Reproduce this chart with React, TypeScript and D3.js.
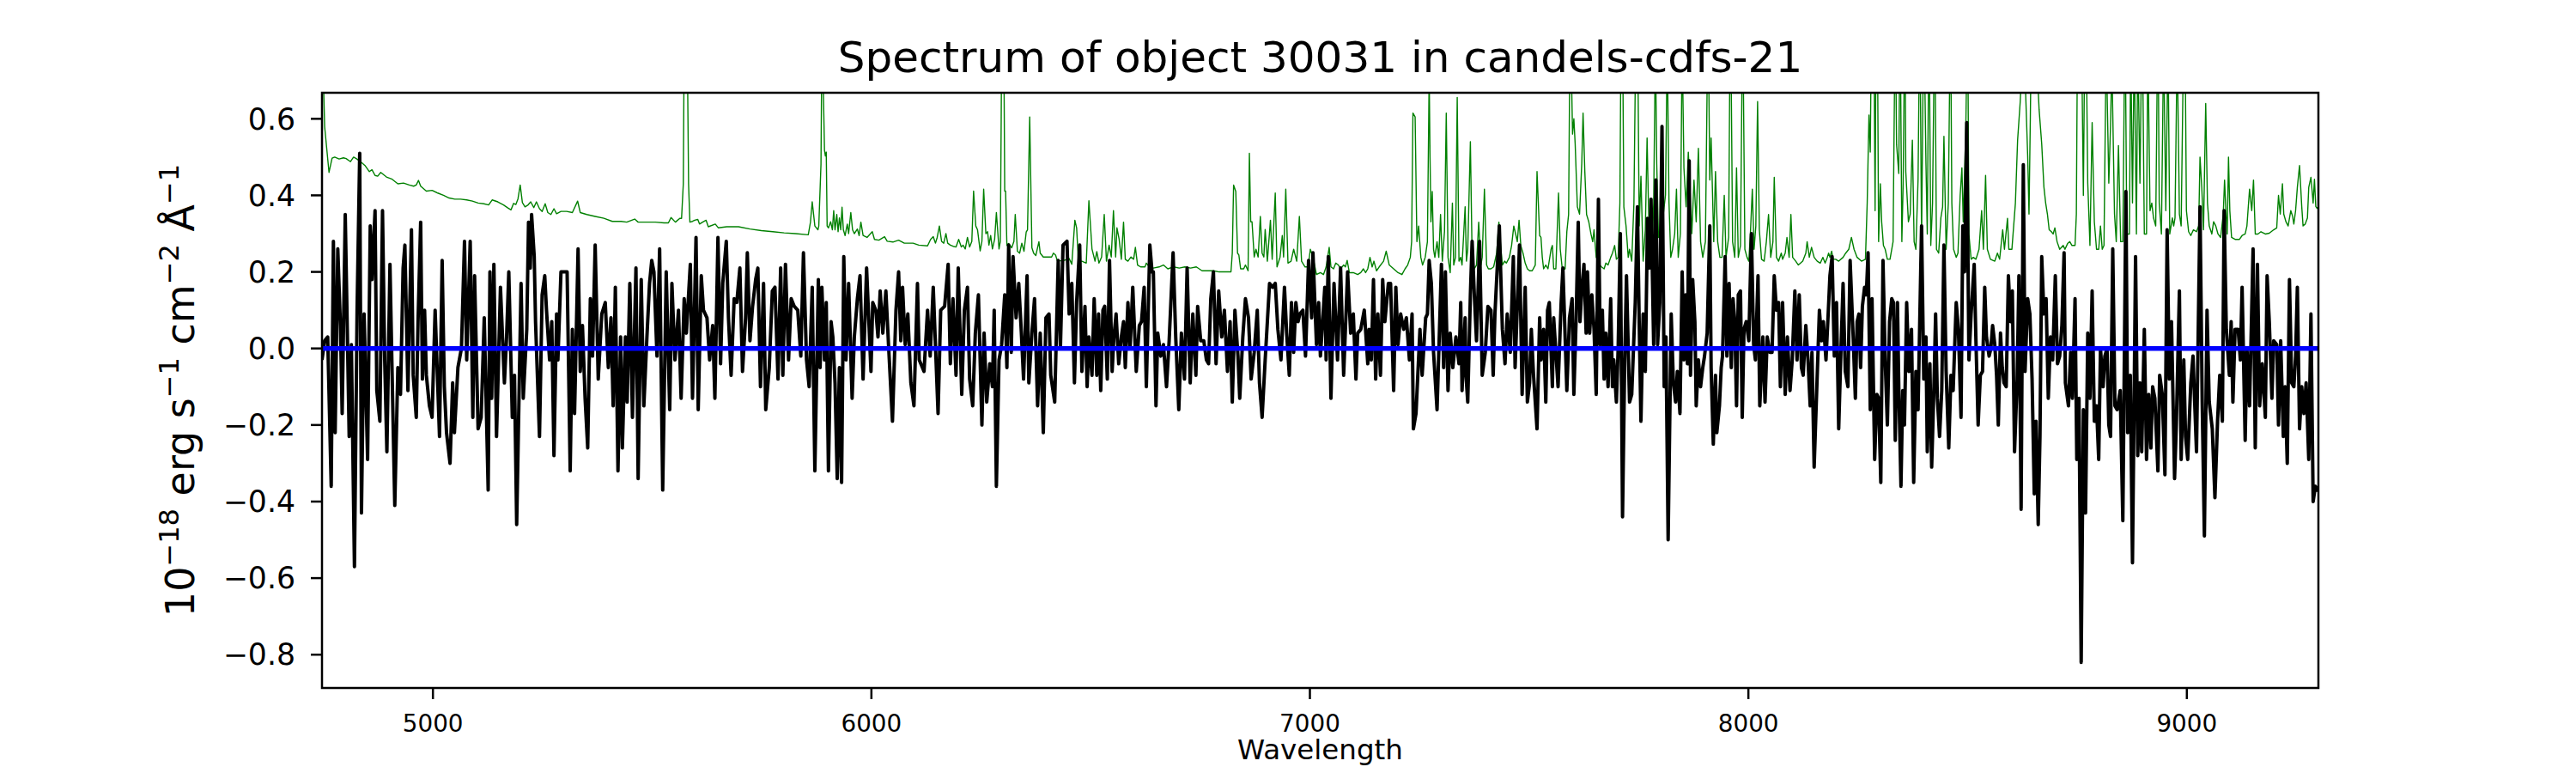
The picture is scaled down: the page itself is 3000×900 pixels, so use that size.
import { useEffect } from "react";
import * as d3 from "d3";

type Pt = [number, number];

const title = "Spectrum of object 30031 in candels-cdfs-21";
const xLabel = "Wavelength";
const xTicks = [5000, 6000, 7000, 8000, 9000];
const yTicks = [-0.8, -0.6, -0.4, -0.2, 0.0, 0.2, 0.4, 0.6];
const xDomain: Pt = [4747, 9300];
const yDomain: Pt = [-0.887, 0.668];

// flat model, blue
const modelPoints: Pt[] = [[4747, 0], [9300, 0]];

// observed flux, black (wavelength, flux)
const fluxPoints: Pt[] = [
  [4747,-0.03],[4753,0.02],[4760,0.03],[4768,-0.36],[4773,0.28],[4777,-0.22],[4783,0.26],[4789,0.06],[4793,-0.17],[4800,0.35],
  [4809,-0.23],[4814,0.01],[4821,-0.57],[4827,0.1],[4833,0.51],[4837,-0.43],[4843,0.09],[4851,-0.29],[4857,0.32],[4861,0.18],
  [4868,0.36],[4872,-0.11],[4879,-0.19],[4885,0.36],[4890,-0.03],[4895,-0.27],[4902,0.22],[4908,-0.13],[4913,-0.41],[4920,-0.05],
  [4926,-0.12],[4932,0.21],[4936,0.27],[4943,-0.11],[4951,0.31],[4955,-0.07],[4962,-0.18],[4966,0.07],[4972,0.33],[4976,-0.08],
  [4981,0.1],[4985,-0.07],[4992,-0.15],[4998,-0.18],[5005,0.1],[5015,-0.23],[5021,0.23],[5026,-0.1],[5031,-0.22],[5039,-0.3],
  [5045,-0.09],[5049,-0.22],[5057,-0.05],[5065,0.0],[5072,0.28],[5077,-0.03],[5085,0.28],[5091,-0.18],[5095,0.19],[5103,-0.21],
  [5110,-0.18],[5117,0.08],[5126,-0.37],[5130,0.2],[5134,-0.13],[5139,0.22],[5145,-0.23],[5154,0.16],[5163,-0.09],[5168,0.03],
  [5173,0.2],[5181,-0.18],[5186,-0.07],[5191,-0.46],[5201,0.17],[5206,-0.13],[5214,0.05],[5218,0.33],[5222,0.21],[5225,0.35],
  [5231,0.24],[5234,0.07],[5243,-0.23],[5249,0.14],[5255,0.19],[5259,0.1],[5266,-0.03],[5271,0.07],[5276,-0.28],[5282,0.09],
  [5285,-0.03],[5292,0.2],[5300,0.2],[5306,0.2],[5313,-0.32],
  [5318,0.05],[5323,-0.17],[5331,0.26],[5336,-0.06],[5341,0.06],[5347,-0.13],[5353,-0.26],[5359,0.13],[5364,-0.02],[5370,0.27],
  [5377,-0.08],[5385,0.09],[5393,0.12],[5400,-0.05],[5406,0.08],[5411,-0.15],[5416,0.16],[5422,-0.32],[5428,0.03],[5432,-0.26],
  [5439,0.03],[5443,-0.14],[5449,0.17],[5455,-0.18],[5463,0.21],[5468,-0.34],[5475,0.18],[5481,-0.15],[5488,0.03],[5494,0.17],
  [5499,0.23],[5504,0.2],[5511,-0.02],[5517,0.26],[5524,-0.37],[5532,0.2],[5540,-0.16],[5545,0.17],[5552,-0.03],[5560,0.1],
  [5566,-0.13],[5573,0.13],[5578,0.04],[5587,0.22],[5592,-0.13],[5600,0.29],[5605,-0.16],[5612,0.19],[5617,0.1],[5625,0.08],
  [5631,-0.03],[5638,0.06],[5643,-0.13],[5650,0.29],[5656,-0.04],[5661,0.17],[5669,0.28],[5674,0.08],[5680,-0.07],[5687,0.13],
  [5693,0.12],[5700,0.21],[5706,-0.06],[5713,0.08],[5717,0.25],[5723,0.02],[5729,0.11],[5736,0.18],[5741,0.21],[5747,-0.1],
  [5754,0.17],[5759,-0.16],[5767,-0.05],[5774,0.15],[5780,0.16],[5787,-0.08],[5793,0.21],[5798,-0.07],[5804,0.22],[5811,-0.03],
  [5817,0.13],[5824,0.11],[5832,0.1],[5839,-0.02],[5845,0.25],[5852,-0.03],[5858,-0.1],[5865,0.16],[5871,-0.32],[5879,0.18],
  [5883,-0.05],[5887,0.16],[5893,-0.03],[5897,0.12],[5902,-0.32],[5908,0.07],[5912,0.03],[5917,-0.09],[5922,-0.34],[5927,-0.05],
  [5932,-0.35],[5937,0.24],[5942,-0.03],[5948,0.17],[5956,-0.13],[5961,0.03],[5968,0.13],[5974,0.19],[5981,-0.08],[5989,0.21],
  [5999,-0.06],[6003,0.12],[6010,0.1],[6015,0.03],[6020,0.15],[6026,0.04],[6033,0.15],[6039,0.01],[6048,-0.19],[6056,0.1],
  [6062,0.2],[6067,0.02],[6071,0.16],[6077,0.01],[6083,0.09],[6090,-0.09],[6097,-0.15],[6105,0.17],[6109,-0.03],[6120,-0.06],
  [6128,0.1],[6134,-0.02],[6141,0.16],[6152,-0.17],[6158,0.1],[6167,0.11],[6175,0.22],[6180,-0.04],[6186,0.13],[6193,-0.07],
  [6198,0.21],[6206,-0.12],[6212,0.1],[6219,0.16],[6224,-0.08],[6231,-0.15],[6237,0.04],[6244,0.14],[6252,-0.2],[6257,0.04],
  [6263,-0.14],[6270,-0.04],[6276,-0.1],[6280,0.1],[6285,-0.36],[6291,-0.03],[6297,0.01],[6304,0.14],[6309,-0.05],[6313,0.27],
  [6319,-0.01],[6323,0.24],[6330,0.08],[6336,0.17],[6342,0.04],[6347,-0.08],[6355,0.19],[6359,-0.09],[6366,0.04],[6372,0.13],
  [6379,-0.15],[6385,0.04],[6392,-0.22],[6398,0.08],[6405,0.09],[6409,-0.07],[6418,-0.14],[6426,0.23],[6431,0.0],[6437,0.27],
  [6446,0.28],[6451,0.09],
  [6457,0.17],[6463,-0.09],[6468,0.12],[6475,0.27],[6480,-0.06],[6487,0.11],[6492,-0.1],[6496,0.03],[6503,-0.07],[6508,0.13],
  [6514,-0.07],[6518,0.09],[6523,-0.11],[6528,0.1],[6532,0.11],[6538,-0.08],[6543,0.23],[6549,-0.06],[6553,0.03],[6558,0.09],
  [6564,-0.04],[6570,0.03],[6575,0.07],[6579,-0.05],[6585,0.12],[6590,0.0],[6596,0.16],[6604,-0.06],[6611,0.06],[6616,0.07],
  [6622,0.16],[6627,-0.1],[6635,0.27],[6640,0.2],[6643,0.2],[6649,-0.15],[6653,0.04],[6660,-0.02],[6666,0.01],[6673,-0.1],
  [6679,0.02],[6688,0.25],[6694,0.03],[6701,-0.16],[6707,0.04],[6714,-0.08],[6720,0.21],[6727,-0.09],[6733,0.09],[6740,-0.07],
  [6744,0.11],[6751,0.02],[6758,0.02],[6764,-0.03],[6769,-0.04],[6774,0.13],[6780,0.2],[6786,-0.04],[6792,0.15],[6799,0.03],
  [6805,0.1],[6812,-0.06],[6818,0.07],[6823,-0.14],[6829,0.1],[6836,-0.02],[6840,-0.13],[6847,0.03],[6853,0.13],[6860,0.08],
  [6866,-0.08],[6873,-0.01],[6880,0.1],[6885,-0.09],[6891,-0.18],[6898,-0.03],[6903,0.07],[6908,0.17],[6915,0.16],[6921,0.17],
  [6927,0.05],[6934,-0.03],[6942,0.16],[6947,0.04],[6953,-0.07],[6958,0.12],[6963,-0.01],[6968,0.12],[6973,0.07],[6977,0.09],
  [6984,0.1],[6990,-0.02],[6997,0.23],[7004,0.08],[7007,0.25],[7015,0.01],
  [7020,0.12],[7024,-0.02],[7034,0.16],[7037,-0.03],[7042,0.24],[7048,-0.13],[7055,0.17],[7063,-0.03],[7070,0.21],[7077,-0.07],
  [7086,0.2],[7093,0.04],[7099,0.09],[7105,-0.08],[7109,0.04],[7116,0.05],[7124,0.1],[7132,-0.04],[7135,0.05],[7140,-0.03],
  [7145,0.18],[7150,-0.08],[7155,0.09],[7161,-0.07],[7166,0.18],[7171,0.07],[7179,0.17],[7184,0.17],[7191,-0.11],[7196,0.16],
  [7201,0.01],[7207,0.09],[7214,0.05],[7220,0.08],[7227,-0.03],[7233,0.09],[7236,-0.21],[7242,-0.17],[7251,0.05],[7256,-0.07],
  [7264,0.08],[7268,0.09],[7272,0.23],[7277,0.17],[7282,-0.01],[7290,-0.16],[7300,0.22],[7305,-0.05],[7309,0.2],[7315,-0.11],
  [7320,0.04],[7326,-0.05],[7333,0.03],[7340,-0.04],[7344,0.12],[7347,-0.11],[7354,0.08],[7356,-0.07],[7360,-0.14],[7366,0.14],
  [7370,0.28],[7375,0.14],[7380,0.02],[7387,0.28],[7393,-0.07],[7400,-0.01],[7406,0.11],[7413,0.1],[7418,-0.07],[7422,0.09],
  [7432,0.32],[7439,0.05],[7445,-0.04],[7450,0.09],[7457,-0.01],[7464,0.24],[7468,-0.05],[7478,0.27],[7484,-0.12],[7491,0.16],
  [7496,-0.14],[7501,-0.09],[7505,0.05],[7510,-0.07],[7518,-0.21],[7524,0.08],[7527,-0.03],[7533,0.05],[7538,-0.14],[7542,0.1],
  [7546,0.12],[7553,-0.1],[7556,0.08],[7566,-0.1],[7573,0.12],[7577,0.21],[7586,-0.11],
  [7592,0.08],[7598,0.13],[7602,-0.12],[7607,0.07],[7612,0.33],[7616,0.07],[7620,0.15],[7625,0.22],[7630,0.04],[7633,0.2],
  [7638,0.04],[7643,0.14],[7648,0.05],[7653,-0.12],[7658,0.39],[7662,0.01],[7667,0.1],[7671,-0.08],[7675,0.04],[7680,-0.1],
  [7686,0.13],[7690,-0.1],[7693,-0.03],[7699,-0.14],[7703,0.0],[7708,0.3],[7713,-0.44],[7718,-0.03],[7722,0.19],[7729,-0.14],
  [7734,-0.12],[7739,0.03],[7742,0.12],[7747,0.37],[7751,0.07],[7755,-0.19],[7760,0.09],[7765,-0.06],[7770,0.34],[7774,0.21],
  [7778,0.39],[7784,0.01],[7789,0.44],[7793,0.01],[7798,0.12],[7803,0.58],[7808,-0.1],[7812,0.03],[7817,-0.5],[7824,0.09],
  [7829,-0.09],[7834,-0.14],[7838,-0.06],[7844,-0.17],[7849,0.2],[7853,-0.03],[7857,0.14],[7861,-0.04],[7865,0.49],[7868,-0.07],
  [7873,0.18],[7878,0.07],[7881,-0.15],[7886,-0.03],[7891,-0.1],[7896,-0.05],[7900,-0.02],[7906,0.04],[7912,0.32],[7915,-0.05],
  [7920,-0.25],[7925,-0.07],[7928,-0.22],[7934,-0.15],[7938,-0.05],[7941,-0.02],[7947,0.24],[7951,-0.02],[7956,0.17],[7961,-0.05],
  [7965,0.13],[7969,0.07],[7973,-0.15],[7977,0.14],[7982,0.15],[7986,-0.18],[7990,0.05],[7995,0.07],[8001,0.02],[8007,0.3],
  [8012,0.01],[8016,-0.03],[8022,0.19],[8026,-0.15],[8033,0.03],[8038,-0.14],[8043,0.03],[8049,-0.01],[8054,-0.01],[8059,0.19],
  [8064,0.1],[8069,0.12],[8073,-0.1],[8078,0.12],[8084,-0.12],[8089,0.03],[8095,-0.11],[8100,-0.03],[8106,0.15],[8111,-0.03],
  [8116,0.14],[8121,-0.05],[8125,-0.07],[8131,0.06],[8136,-0.03],[8141,-0.15],[8145,-0.01],[8150,-0.31],
  [8162,0.1],[8167,0.02],[8171,0.07],[8177,-0.03],[8182,0.09],[8186,0.19],[8191,0.24],[8196,-0.02],[8201,0.12],[8206,-0.21],
  [8211,-0.01],[8216,0.17],[8221,-0.06],[8227,-0.1],[8232,0.23],[8239,0.03],[8244,-0.13],[8248,0.07],[8252,0.09],[8256,-0.05],
  [8260,0.11],[8265,0.16],[8269,0.14],[8273,0.25],[8278,-0.16],[8282,0.13],[8288,-0.29],[8293,-0.12],[8297,-0.13],[8302,-0.35],
  [8307,0.23],[8312,-0.03],[8317,-0.2],[8322,0.07],[8327,0.13],[8331,0.12],[8335,-0.24],[8340,0.12],[8343,-0.1],[8348,-0.36],
  [8352,-0.11],[8356,-0.2],[8361,0.12],[8366,-0.06],[8372,0.05],[8377,-0.35],[8382,-0.06],[8387,-0.16],[8395,0.32],[8400,-0.08],
  [8405,0.03],[8408,-0.27],[8414,-0.04],[8418,-0.31],[8423,-0.11],[8427,0.09],[8431,-0.13],[8436,-0.23],[8441,-0.11],[8446,0.27],
  [8451,-0.06],[8457,-0.26],[8462,-0.07],[8467,-0.11],[8474,0.12],[8479,0.05],[8485,-0.18],[8489,0.32],[8493,0.2],[8498,0.59],
  [8503,-0.03],[8508,0.09],[8515,0.22],[8519,0.02],[8524,-0.2],[8529,-0.07],[8534,-0.06],[8539,0.16],[8543,0.03],[8549,-0.02],
  [8553,0.0],[8557,0.06],[8562,0.01],[8566,-0.07],[8570,-0.2],[8575,0.04],[8579,-0.05],[8583,-0.09],[8588,-0.1],[8593,0.19],
  [8598,0.07],[8602,0.15],[8607,-0.27],[8613,-0.08],[8617,0.19],[8622,-0.42],[8627,0.48],[8631,-0.06],[8637,0.13],[8642,0.09],
  [8647,-0.08],[8652,-0.38],[8656,-0.19],[8661,-0.46],[8665,-0.23],[8669,0.24],[8674,0.09],[8679,0.13],[8684,-0.13],[8689,0.03],
  [8694,-0.03],[8700,0.19],[8705,-0.04],[8710,-0.02],[8715,0.06],[8720,0.25],[8723,-0.09],
  [8730,-0.15],[8735,-0.01],[8739,-0.13],[8745,0.13],[8749,-0.29],[8754,-0.13],[8759,-0.82],[8764,-0.16],[8769,-0.43],[8774,0.04],
  [8779,-0.13],[8784,0.15],[8789,-0.19],[8794,-0.15],[8799,-0.29],[8803,0.0],[8809,-0.1],[8813,-0.02],[8818,0.0],[8822,-0.2],
  [8826,-0.23],[8831,0.26],[8836,-0.15],[8841,-0.16],[8848,-0.11],[8854,-0.45],[8861,0.41],[8865,-0.22],[8871,-0.07],[8876,-0.56],
  [8883,0.24],[8888,-0.28],[8893,-0.09],[8897,-0.27],[8903,0.05],[8908,-0.29],[8913,-0.12],[8918,-0.26],[8922,-0.1],[8927,-0.13],
  [8934,-0.32],[8938,-0.07],[8944,-0.12],[8950,-0.33],[8955,0.31],[8960,-0.08],[8965,0.07],[8972,-0.34],[8976,-0.2],[8983,0.15],
  [8987,-0.29],[8993,-0.03],[8997,-0.23],[9002,-0.29],[9009,-0.09],[9014,-0.02],[9022,-0.27],[9030,0.37],[9035,-0.14],[9040,-0.49],
  [9046,0.1],[9051,-0.14],[9058,-0.21],[9064,-0.39],[9070,-0.19],[9075,-0.07],[9081,-0.19],[9085,0.36],[9090,0.05],[9097,-0.07],
  [9101,0.07],[9105,-0.14],[9110,0.05],[9117,0.05],[9122,-0.03],[9126,0.16],[9133,-0.24],[9137,0.0],[9143,-0.15],[9151,0.26],
  [9156,-0.26],[9161,0.22],[9166,-0.15],[9172,-0.04],[9179,-0.18],[9183,0.19],[9188,0.07],[9194,-0.13],[9198,0.02],[9205,0.01],
  [9209,-0.2],[9214,0.02],[9220,-0.23],[9224,-0.1],[9229,-0.3],[9234,0.18],[9239,-0.09],[9244,-0.1],[9248,-0.02],[9252,0.16],
  [9257,-0.21],[9262,-0.1],[9267,-0.17],[9272,-0.09],[9278,-0.29],[9283,0.09],[9288,-0.4],[9293,-0.36],[9297,-0.37],[9300,-0.36],
];

// error spectrum, green (wavelength, sigma)
const errorPoints: Pt[] = [
  [4747,0.85],[4753,0.58],[4763,0.46],[4770,0.497],[4776,0.5],[4786,0.495],[4796,0.498],[4802,0.496],[4812,0.488],[4819,0.5],
  [4825,0.496],[4835,0.488],[4845,0.478],[4855,0.462],[4861,0.467],[4868,0.452],[4874,0.45],[4881,0.46],[4894,0.448],[4907,0.442],
  [4920,0.43],[4933,0.432],[4946,0.427],[4956,0.424],[4962,0.427],[4967,0.439],[4972,0.424],[4985,0.411],[4998,0.413],[5011,0.406],
  [5024,0.4],[5037,0.393],[5050,0.39],[5063,0.39],[5077,0.388],[5090,0.385],[5103,0.38],[5116,0.378],[5127,0.375],[5135,0.388],
  [5148,0.383],[5161,0.375],[5171,0.367],[5178,0.362],[5184,0.379],[5189,0.376],[5194,0.391],[5199,0.427],[5204,0.381],[5210,0.37],
  [5217,0.375],[5223,0.383],[5230,0.368],[5236,0.383],[5243,0.365],[5249,0.358],[5256,0.378],[5262,0.355],[5269,0.35],[5276,0.365],
  [5282,0.352],[5292,0.358],[5305,0.358],
  [5318,0.355],[5330,0.385],[5336,0.355],[5351,0.35],[5370,0.345],[5390,0.34],[5409,0.332],[5429,0.332],[5442,0.33],[5460,0.338],
  [5468,0.33],[5488,0.33],[5507,0.33],[5527,0.328],[5537,0.328],[5543,0.342],[5553,0.33],[5563,0.34],[5567,0.34],[5571,0.43],
  [5573,0.8],[5576,1.5],[5580,0.8],[5583,0.43],[5586,0.33],[5592,0.332],[5597,0.335],[5604,0.337],[5608,0.325],[5615,0.33],
  [5623,0.335],[5628,0.318],[5644,0.325],[5651,0.315],[5670,0.318],[5697,0.318],[5723,0.312],[5749,0.308],[5775,0.305],[5801,0.302],
  [5827,0.3],[5856,0.297],[5861,0.33],[5865,0.383],[5871,0.32],[5878,0.31],
  [5880,0.32],[5885,0.482],[5887,0.8],[5890,0.7],[5893,0.518],[5895,0.503],[5897,0.513],[5899,0.32],[5902,0.315],[5907,0.331],
  [5911,0.31],[5914,0.36],[5917,0.31],[5921,0.35],[5924,0.305],[5927,0.341],[5930,0.31],[5933,0.369],[5936,0.31],[5940,0.295],
  [5945,0.325],[5948,0.3],[5953,0.355],[5957,0.31],[5961,0.3],[5968,0.312],[5972,0.295],[5976,0.33],[5981,0.295],[5990,0.29],
  [6002,0.305],[6007,0.285],[6017,0.283],[6030,0.292],[6036,0.28],[6049,0.278],[6062,0.283],[6075,0.275],[6095,0.275],[6108,0.27],
  [6128,0.268],[6135,0.285],[6141,0.292],[6146,0.275],[6150,0.29],[6155,0.32],[6160,0.28],[6165,0.275],[6170,0.3],[6174,0.275],
  [6180,0.27],[6186,0.267],[6193,0.265],[6199,0.285],[6205,0.265],[6209,0.27],[6214,0.26],[6219,0.29],[6224,0.265],[6229,0.28],
  [6233,0.411],[6238,0.32],[6242,0.31],[6248,0.255],[6252,0.28],[6256,0.416],[6261,0.3],[6265,0.305],[6268,0.27],[6272,0.295],
  [6276,0.26],[6281,0.285],[6285,0.355],[6291,0.26],[6294,0.28],[6296,0.6],[6298,1.0],[6300,1.1],[6302,0.8],[6304,0.411],
  [6306,0.411],[6309,0.269],[6313,0.274],[6320,0.263],[6325,0.28],[6328,0.35],[6333,0.254],[6338,0.249],[6343,0.275],[6348,0.254],
  [6353,0.304],[6356,0.31],[6361,0.605],[6366,0.263],[6370,0.249],[6375,0.243],[6382,0.279],[6385,0.249],[6392,0.239],[6402,0.239],
  [6411,0.239],[6415,0.249],[6420,0.244],[6424,0.229],[6437,0.229],
  [6451,0.235],[6457,0.22],[6464,0.335],[6468,0.315],[6472,0.228],[6480,0.228],[6490,0.223],[6496,0.386],[6503,0.26],[6510,0.228],
  [6514,0.253],[6519,0.223],[6525,0.239],[6531,0.35],[6536,0.228],[6542,0.27],[6547,0.239],[6552,0.36],[6557,0.239],[6560,0.315],
  [6565,0.285],[6570,0.233],[6575,0.33],[6579,0.233],[6585,0.228],[6592,0.239],[6598,0.233],[6602,0.264],[6607,0.218],[6614,0.213],
  [6624,0.213],[6627,0.223],[6634,0.213],[6643,0.21],[6656,0.213],[6666,0.218],[6676,0.208],[6689,0.213],[6702,0.21],[6715,0.213],
  [6728,0.21],[6741,0.213],[6754,0.203],[6767,0.203],[6780,0.203],[6793,0.2],[6806,0.2],[6820,0.2],[6823,0.249],[6826,0.427],
  [6831,0.41],[6835,0.249],[6838,0.244],[6842,0.208],[6849,0.208],[6853,0.218],[6859,0.203],[6862,0.51],[6865,0.331],[6868,0.331],
  [6873,0.239],[6877,0.259],[6882,0.239],[6887,0.345],[6891,0.249],[6895,0.239],[6898,0.311],[6903,0.228],[6910,0.335],[6914,0.233],
  [6921,0.406],[6925,0.213],[6932,0.239],[6937,0.295],[6940,0.239],[6945,0.416],[6950,0.223],[6957,0.228],[6963,0.259],[6970,0.228],
  [6976,0.345],[6981,0.228],[6989,0.213],[6996,0.213],[7001,0.259],[7007,0.239],[7015,0.193],
  [7024,0.198],[7031,0.193],[7037,0.213],[7044,0.264],[7048,0.213],[7054,0.208],[7059,0.223],[7065,0.218],[7070,0.208],[7077,0.218],
  [7081,0.213],[7085,0.23],[7090,0.198],[7099,0.198],[7109,0.193],[7116,0.198],[7122,0.208],[7127,0.198],[7132,0.208],[7137,0.238],
  [7142,0.213],[7146,0.228],[7152,0.203],[7158,0.213],[7168,0.228],[7174,0.254],[7181,0.218],[7191,0.208],[7201,0.198],[7210,0.193],
  [7217,0.208],[7223,0.218],[7229,0.238],[7232,0.279],[7235,0.615],[7240,0.605],[7244,0.279],[7248,0.32],[7253,0.238],[7257,0.218],
  [7263,0.238],[7268,0.279],[7271,0.6],[7272,0.72],[7274,0.5],[7276,0.331],[7279,0.41],[7282,0.259],[7285,0.238],[7290,0.279],
  [7294,0.238],[7298,0.35],[7302,0.228],[7307,0.306],[7311,0.615],[7315,0.238],[7320,0.198],[7325,0.38],[7328,0.218],[7332,0.238],
  [7336,0.656],[7340,0.228],[7344,0.238],[7347,0.218],[7354,0.37],[7357,0.228],[7360,0.259],[7366,0.54],[7370,0.238],[7375,0.208],
  [7380,0.218],[7385,0.33],[7390,0.218],[7393,0.238],[7398,0.416],[7403,0.218],[7407,0.208],[7413,0.208],[7419,0.213],[7426,0.249],
  [7431,0.33],[7435,0.269],[7439,0.218],[7444,0.228],[7448,0.223],[7455,0.238],[7460,0.269],[7465,0.32],[7469,0.3],[7473,0.279],
  [7477,0.335],[7481,0.269],[7486,0.249],[7491,0.223],[7496,0.208],[7501,0.203],[7507,0.203],[7514,0.218],[7518,0.462],[7524,0.295],
  [7527,0.29],[7530,0.238],[7533,0.208],[7538,0.218],[7543,0.208],[7550,0.259],[7553,0.269],[7556,0.208],[7561,0.208],[7567,0.406],
  [7571,0.259],[7576,0.203],[7582,0.208],[7586,0.305],
  [7590,0.35],[7593,0.8],[7596,0.75],[7599,0.56],[7602,0.6],[7605,0.534],[7610,0.37],[7615,0.351],[7620,0.483],[7623,0.615],
  [7627,0.462],[7631,0.35],[7636,0.331],[7641,0.299],[7645,0.279],[7648,0.31],[7653,0.238],[7658,0.233],[7661,0.218],[7665,0.213],
  [7671,0.208],[7675,0.223],[7680,0.218],[7686,0.238],[7690,0.249],[7695,0.269],[7699,0.233],[7703,0.238],[7707,0.38],[7710,0.9],
  [7713,0.85],[7716,0.37],[7721,0.32],[7726,0.238],[7729,0.259],[7734,0.228],[7739,0.38],[7744,0.9],[7747,0.9],[7751,0.32],
  [7755,0.45],[7760,0.228],[7765,0.31],[7769,0.55],[7772,0.38],[7775,0.249],[7780,0.238],[7784,0.38],[7788,0.8],[7791,0.483],
  [7795,0.29],[7799,0.3],[7804,0.33],[7811,0.401],[7815,0.8],[7819,0.38],[7823,0.238],[7827,0.259],[7832,0.3],[7836,0.416],
  [7840,0.238],[7845,0.3],[7849,0.8],[7853,0.472],[7858,0.37],[7863,0.513],[7866,0.44],[7871,0.3],[7876,0.44],[7881,0.331],
  [7886,0.523],[7891,0.279],[7896,0.238],[7902,0.279],[7908,0.9],[7912,0.44],[7915,0.55],[7921,0.279],[7925,0.462],[7930,0.279],
  [7935,0.238],[7940,0.238],[7945,0.4],[7949,0.238],[7955,0.29],[7959,0.95],[7964,0.279],[7969,0.238],[7973,0.472],[7977,0.238],
  [7982,0.269],[7987,0.9],[7992,0.259],[7997,0.238],[8001,0.228],[8005,0.31],[8009,0.416],[8013,0.259],[8017,0.32],[8021,0.645],
  [8025,0.31],[8030,0.233],[8036,0.228],[8041,0.279],[8046,0.35],[8051,0.238],[8056,0.279],[8059,0.447],[8064,0.238],[8069,0.228],
  [8075,0.249],[8078,0.233],[8084,0.249],[8088,0.29],[8093,0.238],[8097,0.35],[8101,0.238],[8108,0.228],[8114,0.218],[8124,0.228],
  [8131,0.249],[8134,0.279],[8139,0.238],[8144,0.264],[8150,0.238],
  [8157,0.228],[8164,0.223],[8170,0.238],[8175,0.223],[8180,0.238],[8183,0.249],[8186,0.238],[8190,0.254],[8193,0.233],[8199,0.233],
  [8206,0.228],[8216,0.238],[8222,0.249],[8229,0.259],[8235,0.29],[8241,0.259],[8248,0.238],[8258,0.228],[8267,0.233],[8271,0.38],
  [8275,0.61],[8278,0.513],[8281,0.9],[8286,0.9],[8289,0.36],[8291,0.8],[8294,0.9],[8297,0.279],[8301,0.43],[8304,0.331],
  [8308,0.269],[8312,0.259],[8317,0.233],[8323,0.233],[8330,0.279],[8335,0.9],[8338,0.533],[8343,0.457],[8346,0.9],[8350,0.279],
  [8353,0.43],[8357,0.9],[8359,0.462],[8365,0.331],[8369,0.351],[8374,0.544],[8378,0.279],[8382,0.259],[8387,0.442],[8391,0.9],
  [8395,0.279],[8400,0.9],[8405,0.483],[8408,0.299],[8412,0.9],[8416,0.269],[8420,0.38],[8425,0.9],[8429,0.259],[8434,0.249],
  [8439,0.341],[8443,0.37],[8446,0.554],[8451,0.259],[8456,0.38],[8461,0.9],[8464,0.38],[8468,0.259],[8474,0.238],[8478,0.249],
  [8483,0.4],[8487,0.472],[8490,0.331],[8493,0.452],[8496,0.585],[8500,0.9],[8503,0.299],[8508,0.233],[8513,0.238],[8519,0.233],
  [8526,0.259],[8532,0.36],[8536,0.259],[8541,0.452],[8545,0.259],[8552,0.233],[8562,0.228],[8568,0.249],[8573,0.233],[8580,0.31],
  [8584,0.259],[8591,0.34],[8594,0.259],[8601,0.259],[8609,0.38],[8614,0.544],[8620,0.645],[8626,0.8],[8630,0.75],[8637,0.503],
  [8640,0.351],[8643,0.6],[8645,0.8],[8653,0.85],[8660,0.7],[8663,0.625],[8669,0.534],[8674,0.422],[8678,0.38],[8682,0.351],
  [8686,0.31],[8691,0.305],[8695,0.299],[8699,0.315],[8704,0.279],[8710,0.259],[8718,0.269],[8722,0.259],
  [8728,0.274],[8733,0.279],[8738,0.269],[8745,0.269],[8748,0.351],[8751,0.9],[8754,0.85],[8758,0.8],[8761,0.7],[8764,0.4],
  [8767,0.8],[8771,0.75],[8774,0.432],[8779,0.269],[8784,0.59],[8789,0.331],[8794,0.259],[8799,0.259],[8803,0.32],[8807,0.259],
  [8811,0.269],[8816,0.8],[8822,0.432],[8826,0.585],[8829,0.75],[8835,0.351],[8839,0.279],[8844,0.53],[8849,0.279],[8854,0.279],
  [8859,0.9],[8863,0.299],[8869,0.299],[8872,0.8],[8876,0.38],[8880,0.8],[8885,0.299],[8888,0.8],[8893,0.432],[8898,0.9],
  [8903,0.299],[8908,0.299],[8911,0.8],[8916,0.36],[8920,0.38],[8924,0.341],[8929,0.32],[8934,0.9],[8937,0.38],[8942,0.299],
  [8947,0.8],[8952,0.36],[8957,0.8],[8961,0.299],[8967,0.341],[8970,0.32],[8973,0.341],[8978,0.8],[8983,0.351],[8987,0.32],
  [8993,0.85],[8996,0.8],[8999,0.36],[9004,0.305],[9009,0.295],[9015,0.31],[9022,0.305],[9027,0.32],[9030,0.5],[9034,0.421],
  [9038,0.31],[9043,0.64],[9047,0.38],[9051,0.32],[9057,0.299],[9061,0.331],[9066,0.32],[9071,0.299],[9077,0.29],[9083,0.351],
  [9086,0.44],[9089,0.36],[9092,0.299],[9095,0.5],[9098,0.36],[9102,0.29],[9110,0.285],[9120,0.285],[9126,0.295],[9133,0.299],
  [9137,0.32],[9143,0.416],[9148,0.36],[9152,0.44],[9156,0.299],[9162,0.299],[9169,0.305],[9179,0.299],[9188,0.301],[9198,0.31],
  [9205,0.315],[9209,0.4],[9213,0.351],[9218,0.43],[9221,0.351],[9226,0.331],[9231,0.32],[9237,0.36],[9241,0.346],[9244,0.325],
  [9248,0.36],[9252,0.421],[9257,0.478],[9262,0.371],[9265,0.32],[9270,0.325],[9275,0.341],[9278,0.421],[9283,0.447],[9288,0.38],
  [9291,0.442],[9294,0.371],[9297,0.366],[9300,0.37],
];

const W = 3000;
const H = 900;
const plot = { left: 375, right: 2700, top: 108, bottom: 801 };
const font = "'DejaVu Sans', sans-serif";

export default function App() {
  useEffect(() => {
    document.body.style.margin = "0";
  }, []);

  const x = d3.scaleLinear().domain(xDomain).range([plot.left, plot.right]);
  const y = d3.scaleLinear().domain(yDomain).range([plot.bottom, plot.top]);

  const line = d3
    .line<Pt>()
    .x((d) => x(d[0]))
    .y((d) => y(d[1]));

  const fmtY = (v: number) => {
    const s = Math.abs(v).toFixed(1);
    return v < -1e-9 ? "\u2212" + s : s;
  };

  const tickLen = 13;
  const midY = (plot.top + plot.bottom) / 2;
  const midX = (plot.left + plot.right) / 2;

  return (
    <svg width={W} height={H} viewBox={`0 0 ${W} ${H}`} style={{ display: "block", background: "#fff" }}>
      <defs>
        <clipPath id="plot-clip">
          <rect x={plot.left} y={plot.top} width={plot.right - plot.left} height={plot.bottom - plot.top} />
        </clipPath>
      </defs>

      <rect x={0} y={0} width={W} height={H} fill="#fff" />

      {/* ---------------- LINES ---------------- */}
      <g clipPath="url(#plot-clip)" fill="none" strokeLinejoin="round" strokeLinecap="butt">
        <path d={line(errorPoints) ?? ""} stroke="#008000" strokeWidth={1.4} />
        <path d={line(fluxPoints) ?? ""} stroke="#000" strokeWidth={4} />
        <path d={line(modelPoints) ?? ""} stroke="#0000ff" strokeWidth={5.5} />
      </g>

      {/* ---------------- AXES ---------------- */}
      <rect
        x={plot.left}
        y={plot.top}
        width={plot.right - plot.left}
        height={plot.bottom - plot.top}
        fill="none"
        stroke="#000"
        strokeWidth={2.5}
      />

      {xTicks.map((t) => (
        <g key={`x${t}`}>
          <line x1={x(t)} x2={x(t)} y1={plot.bottom} y2={plot.bottom + tickLen} stroke="#000" strokeWidth={2.5} />
          <text x={x(t)} y={851.7} fontFamily={font} fontSize={27.8} textAnchor="middle" fill="#000">
            {t}
          </text>
        </g>
      ))}

      {yTicks.map((t) => (
        <g key={`y${t}`}>
          <line x1={plot.left - tickLen} x2={plot.left} y1={y(t)} y2={y(t)} stroke="#000" strokeWidth={2.5} />
          <text x={344} y={y(t) + 12.2} fontFamily={font} fontSize={34.7} textAnchor="end" fill="#000">
            {fmtY(t)}
          </text>
        </g>
      ))}

      {/* ---------------- LABELS ---------------- */}
      <text x={midX} y={84.4} fontFamily={font} fontSize={50} textAnchor="middle" fill="#000">
        {title}
      </text>

      <text x={midX} y={884} fontFamily={font} fontSize={32.5} textAnchor="middle" fill="#000">
        {xLabel}
      </text>

      <text
        transform={`translate(226,${midY}) rotate(-90)`}
        fontFamily={font}
        fontSize={46}
        textAnchor="middle"
        fill="#000"
      >
        <tspan>10</tspan>
        <tspan fontSize={32} dy={-18}>{"\u221218"}</tspan>
        <tspan dy={18}> erg s</tspan>
        <tspan fontSize={32} dy={-18}>{"\u22121"}</tspan>
        <tspan dy={18}> cm</tspan>
        <tspan fontSize={32} dy={-18}>{"\u22122"}</tspan>
        <tspan dy={18}> {"\u00c5"}</tspan>
        <tspan fontSize={32} dy={-18}>{"\u22121"}</tspan>
      </text>
    </svg>
  );
}
